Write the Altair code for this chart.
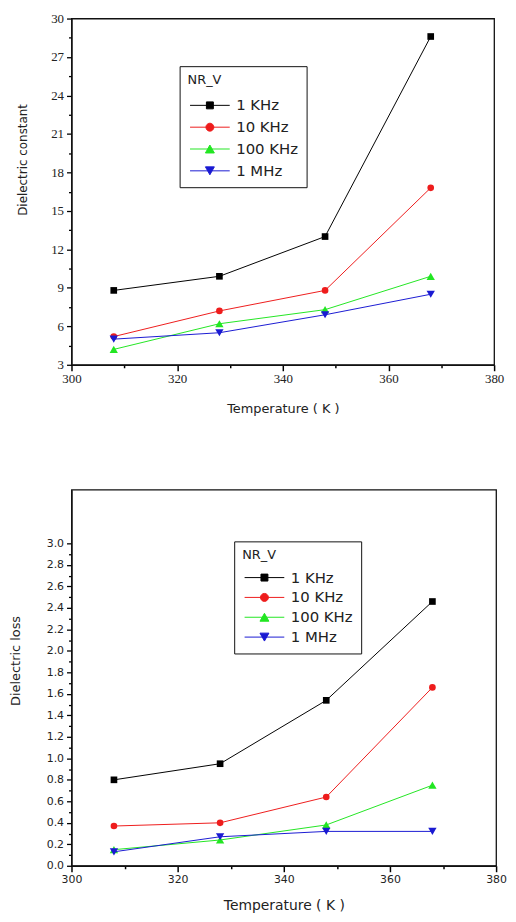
import altair as alt
import pandas as pd

# ---------------- data ----------------
temperatures = [308, 328, 348, 368]
frequencies = ["1 KHz", "10 KHz", "100 KHz", "1 MHz"]

const_1khz = [8.8, 9.9, 13.0, 28.6]
const_10khz = [5.2, 7.2, 8.8, 16.8]
const_100khz = [4.2, 6.2, 7.3, 9.9]
const_1mhz = [5.0, 5.5, 6.9, 8.5]

loss_1khz = [0.80, 0.95, 1.54, 2.46]
loss_10khz = [0.37, 0.40, 0.64, 1.66]
loss_100khz = [0.15, 0.24, 0.38, 0.75]
loss_1mhz = [0.13, 0.27, 0.32, 0.32]

series_colors = ["#000000", "#ee1c1c", "#22e622", "#1a1ad2"]
marker_shapes = ["square", "circle", "triangle-up", "triangle-down"]
marker_sizes = [45, 45, 70, 70]
# legend glyphs: short line with the marker in its middle
legend_glyphs = [
    "M-1,0H7M2.3,-0.7H3.7V0.7H2.3Z",
    "M-1,0H7M3.8,0A0.8,0.8,0,1,1,2.2,0A0.8,0.8,0,1,1,3.8,0Z",
    "M-1,0H7M3,-0.8L3.9,0.8H2.1Z",
    "M-1,0H7M3,0.8L3.9,-0.8H2.1Z",
]

x_ticks = list(range(300, 381, 10))
y_const_ticks = [3 + 1.5 * i for i in range(19)]
y_loss_ticks = [round(0.1 * i, 1) for i in range(31)]


def long_table(series):
    rows = []
    for f, vals in zip(frequencies, series):
        for t, v in zip(temperatures, vals):
            rows.append({"T": t, "freq": f, "v": v})
    return pd.DataFrame(rows)


df_const = long_table([const_1khz, const_10khz, const_100khz, const_1mhz])
df_loss = long_table([loss_1khz, loss_10khz, loss_100khz, loss_1mhz])

FONT = "DejaVu Sans"


def make_legend(x, y, row_pad, title_pad):
    return alt.Legend(
        title="NR_V",
        orient="none",
        legendX=x,
        legendY=y,
        strokeColor="#111111",
        padding=8,
        titleFont=FONT,
        titleFontSize=13,
        titleFontWeight="normal",
        titleColor="#222222",
        titlePadding=title_pad,
        labelFont=FONT,
        labelFontSize=15,
        labelColor="#222222",
        labelOffset=34,
        rowPadding=row_pad,
        symbolStrokeWidth=1,
        symbolOpacity=1,
    )


def minor_dash(test, major_len):
    return {"condition": {"test": test, "value": [major_len, 0]}, "value": [3, 10]}


def panel(df, y_title, y_title_size, y_domain, y_ticks, y_major_expr, tick_font, tick_size,
          x_title_size, x_title_pad, legend, width, height, y_title_pad, y_title_y):
    x_major = "datum.value % 20 === 0"
    x_enc = alt.X(
        "T:Q",
        scale=alt.Scale(domain=[300, 380], nice=False),
        axis=alt.Axis(
            title="Temperature ( K )",
            values=x_ticks,
            labelExpr=f"({x_major}) ? datum.label : ''",
            labelFont=tick_font,
            labelFontSize=tick_size,
            labelColor="#222222",
            labelFlush=False,
            labelPadding=2,
            ticks=True,
            tickColor="#000000",
            tickSize=6,
            tickWidth=1.5,
            tickDash=minor_dash(x_major, 6),
            domainColor="#111111",
            domainWidth=1.3,
            grid=False,
            titleFont=FONT,
            titleFontSize=x_title_size,
            titleFontWeight="normal",
            titleColor="#222222",
            titlePadding=x_title_pad,
        ),
    )
    y_enc = alt.Y(
        "v:Q",
        scale=alt.Scale(domain=y_domain, nice=False, zero=False),
        axis=alt.Axis(
            title=y_title,
            values=y_ticks,
            labelExpr=f"({y_major_expr}) ? datum.label : ''",
            labelFont=tick_font,
            labelFontSize=tick_size,
            labelColor="#222222",
            labelFlush=False,
            labelPadding=3,
            ticks=True,
            tickColor="#000000",
            tickSize=5,
            tickWidth=1.3,
            tickDash=minor_dash(y_major_expr, 5),
            domainColor="#111111",
            domainWidth=1.3,
            grid=False,
            titleFont=FONT,
            titleFontSize=y_title_size,
            titleFontWeight="normal",
            titleColor="#222222",
            titlePadding=y_title_pad,
            titleY=y_title_y,
        ),
    )
    base = alt.Chart(df)
    layers = []
    for f, col, shp, sz in zip(frequencies, series_colors, marker_shapes, marker_sizes):
        sub = base.transform_filter(alt.datum.freq == f)
        layers.append(sub.mark_line(strokeWidth=1, color=col).encode(x=x_enc, y=y_enc))
        layers.append(
            sub.mark_point(filled=True, opacity=1, shape=shp, size=sz, color=col)
            .encode(x=x_enc, y=y_enc)
        )
    color_scale = alt.Scale(domain=frequencies, range=series_colors)
    # legend-only layer (zero-size marks)
    layers.append(
        base.mark_point(filled=True, opacity=1, size=0).encode(
            x=x_enc, y=y_enc,
            color=alt.Color("freq:N", scale=color_scale, sort=frequencies, legend=legend),
            stroke=alt.Stroke("freq:N", scale=color_scale, sort=frequencies, legend=legend),
            shape=alt.Shape(
                "freq:N",
                scale=alt.Scale(domain=frequencies, range=legend_glyphs),
                sort=frequencies,
                legend=legend,
            ),
        )
    )
    return alt.layer(*layers).properties(
        width=width, height=height,
        view=alt.ViewBackground(stroke="#111111", strokeWidth=1.3),
    )


top = panel(
    df_const, "Dielectric constant", 12, [3, 30], y_const_ticks,
    "datum.value % 3 === 0", "Liberation Serif", 13, 13, 17,
    make_legend(109, 48, 6, 11), 426, 349, 21, 142,
)
bottom = panel(
    df_loss, "Dielectric loss", 13, [0, 3.5], y_loss_ticks,
    "round(datum.value * 10) % 2 === 0", FONT, 11, 14, 14,
    make_legend(164, 52, 4, 8), 428, 379, 24, 172,
)

chart = alt.vconcat(top, bottom, spacing=73).resolve_scale(
    color="independent", stroke="independent", shape="independent"
).resolve_legend(
    color="independent", stroke="independent", shape="independent"
).properties(
    padding={"left": 0, "top": 0, "right": 0, "bottom": 0}
).configure_view(
    stroke="#111111", strokeWidth=1.3
).configure(background="white")

chart.save("out.html", embed_options={"renderer": "svg", "actions": False})
